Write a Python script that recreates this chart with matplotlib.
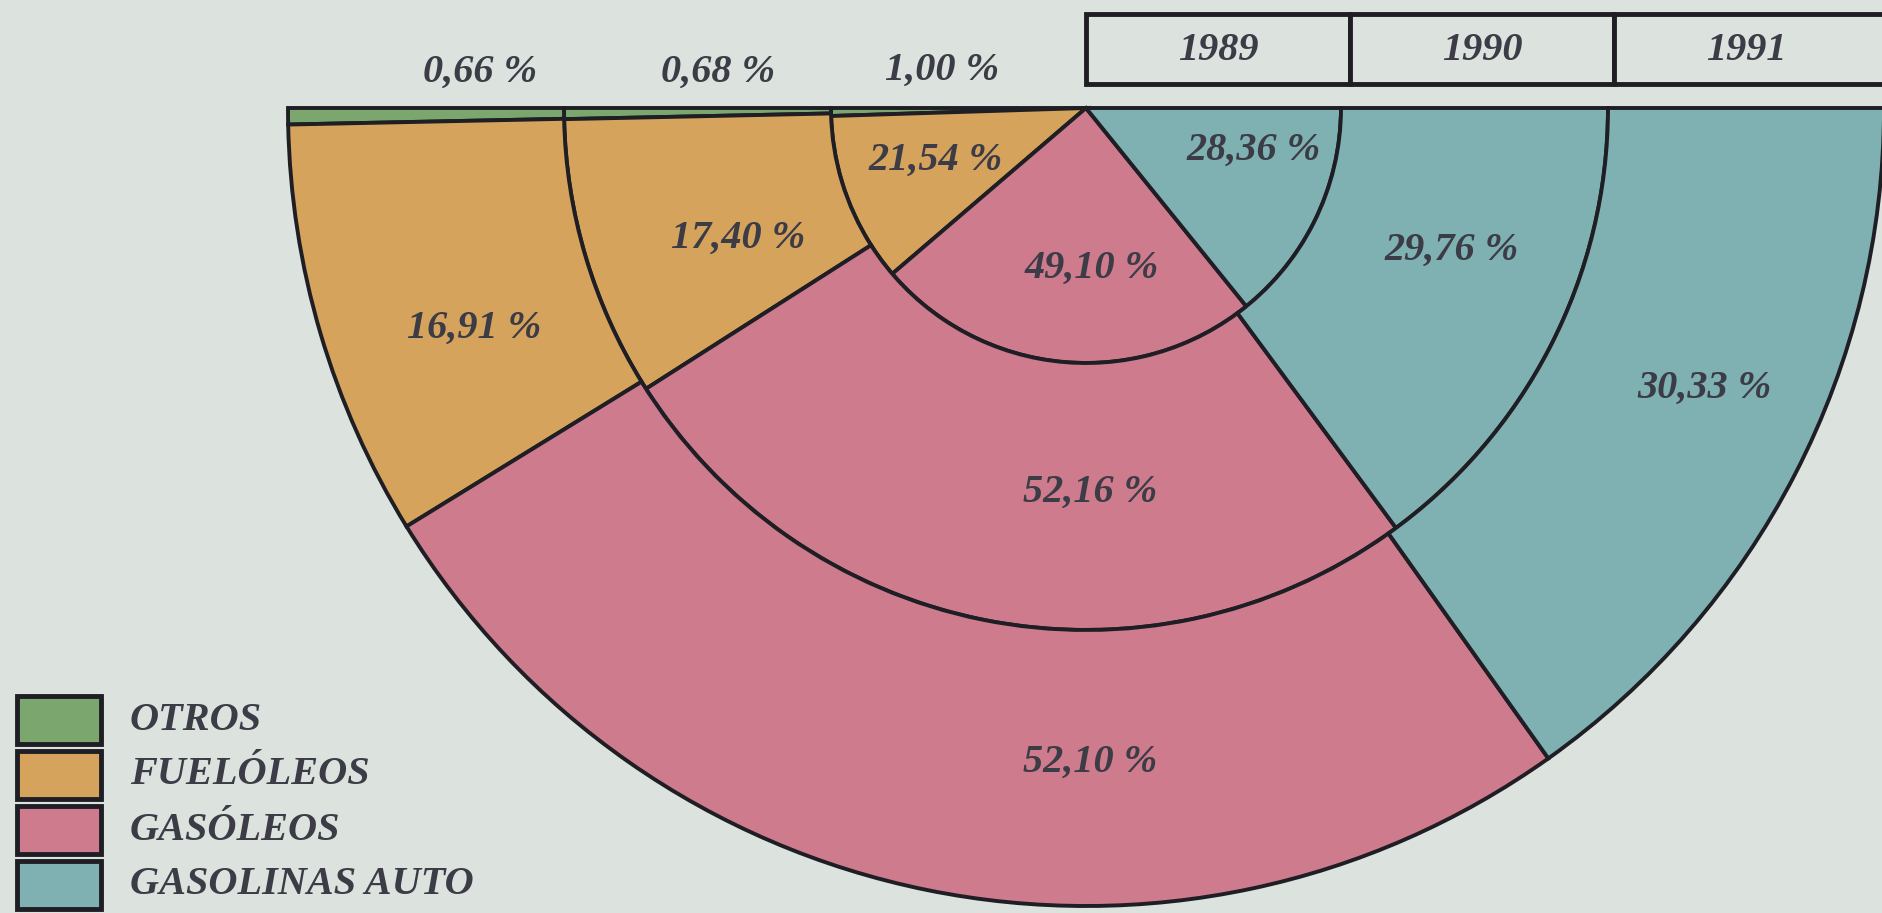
import numpy as np
import matplotlib
matplotlib.use("Agg")
import matplotlib.pyplot as plt
from matplotlib.patches import Wedge, Rectangle

## Datos: estructura del consumo de productos petroliferos (%)
categorias = ['OTROS', 'FUELÓLEOS', 'GASÓLEOS', 'GASOLINAS AUTO']
anios = ['1989', '1990', '1991']
pct_1989 = [1.00, 21.54, 49.10, 28.36]
pct_1990 = [0.68, 17.40, 52.16, 29.76]
pct_1991 = [0.66, 16.91, 52.10, 30.33]

colores = ['#7ba66e', '#d6a35d', '#cd7b8d', '#7fb1b3']
fondo = '#dce2de'
tinta = '#3c3c46'
borde = '#1e1e24'

## Geometria (en pixeles de la figura)
cx, cy = 1086, 108
radios = [0, 255, 522, 798]      # anillos: 1989 dentro, 1991 fuera

## Posiciones de las etiquetas (x, y) por anio y categoria
pos_1989 = [(942, 70), (936, 160), (1092, 268), (1254, 150)]
pos_1990 = [(718, 72), (738, 238), (1090, 492), (1452, 250)]
pos_1991 = [(480, 72), (474, 328), (1090, 762), (1704, 388)]

fig = plt.figure(figsize=(18.82, 9.13), dpi=100, facecolor=fondo)
ax = fig.add_axes([0, 0, 1, 1])
ax.set_xlim(0, 1882)
ax.set_ylim(913, 0)
ax.set_facecolor(fondo)
ax.axis('off')

fuente = dict(family='Liberation Serif', weight='bold', style='italic', color=tinta)

series = [pct_1989, pct_1990, pct_1991]
posiciones = [pos_1989, pos_1990, pos_1991]
for i, valores in enumerate(series):
    r_in, r_out = radios[i], radios[i + 1]
    acum = np.concatenate([[0], np.cumsum(valores)])
    for j, v in enumerate(valores):
        # semicirculo inferior: de izquierda (180) a derecha (0)
        t1 = 180 - acum[j + 1] * 1.8
        t2 = 180 - acum[j] * 1.8
        w = Wedge((cx, cy), r_out, t1, t2, width=r_out - r_in if r_in else None,
                  facecolor=colores[j], edgecolor=borde, linewidth=2.8,
                  joinstyle='miter')
        ax.add_patch(w)
        x, y = posiciones[i][j]
        ax.text(x, y, f"{v:.2f}".replace('.', ',') + ' %', ha='center', va='center',
                fontsize=29, **fuente)

## Cabecera con los anios
x0 = cx
anchos = [264, 264, 280]
for k, a in enumerate(anios):
    ax.add_patch(Rectangle((x0, 14), anchos[k], 70, facecolor=fondo,
                           edgecolor=borde, linewidth=3.5))
    ax.text(x0 + 132, 50, a, ha='center', va='center', fontsize=29, **fuente)
    x0 += anchos[k]

## Leyenda
for j, c in enumerate(categorias):
    y = 696 + j * 55
    ax.add_patch(Rectangle((17, y), 84, 48, facecolor=colores[j],
                           edgecolor=borde, linewidth=3.5))
    ax.text(130, y + 24, c, ha='left', va='center', fontsize=29, **fuente)

fig.savefig('out.png', dpi=100, facecolor=fondo)
